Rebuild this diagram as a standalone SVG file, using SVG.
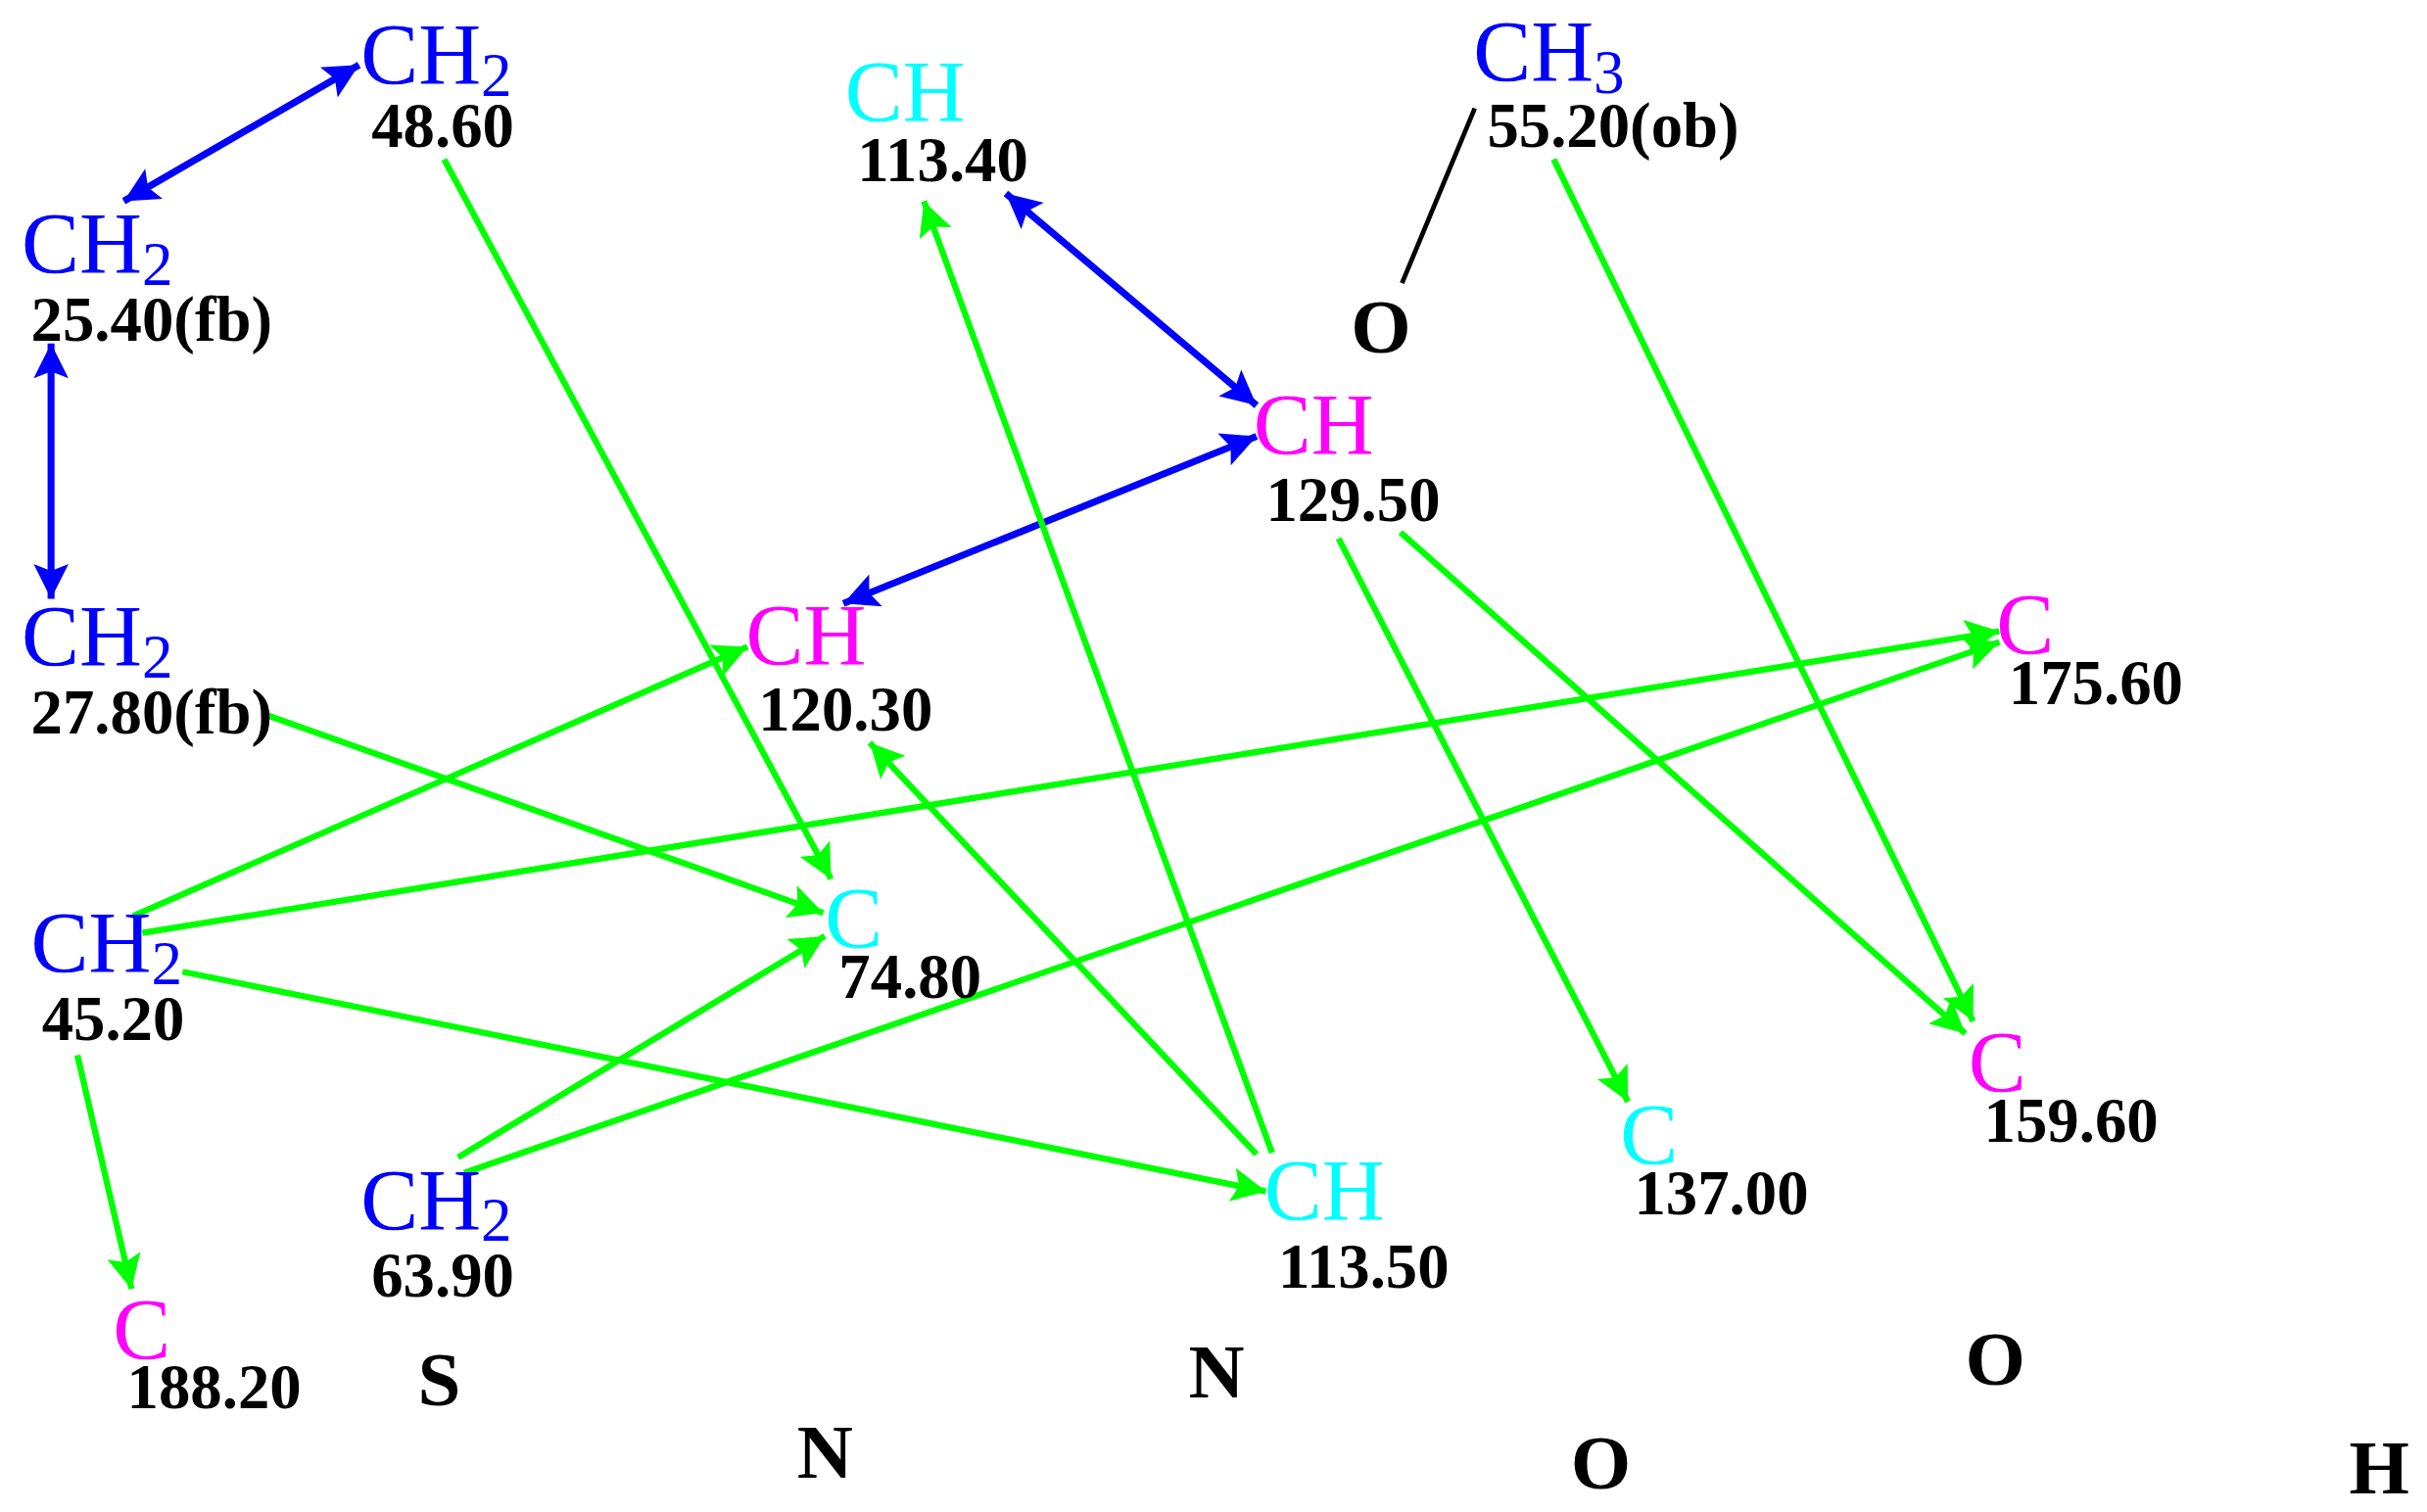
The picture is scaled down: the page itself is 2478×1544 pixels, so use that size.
<svg xmlns="http://www.w3.org/2000/svg" width="2478" height="1544" viewBox="0 0 2478 1544">
<style>
.l{font-family:"Liberation Serif",serif;font-size:56px}
.n{font-family:"Liberation Serif",serif;font-size:41px;font-weight:bold;fill:#000}
.a{font-family:"Liberation Serif",serif;font-size:50px;font-weight:bold;fill:#000}
.b{fill:#0000ff}.c{fill:#00ffff}.m{fill:#ff00ff}
.g{stroke:#00ff00;stroke-width:4;fill:none;marker-end:url(#ag)}
.bl{stroke:#0000ff;stroke-width:4.5;fill:none;marker-end:url(#ab);marker-start:url(#abs)}
</style>
<defs>
<marker id="ag" viewBox="0 0 10 10" refX="10" refY="5" markerWidth="7" markerHeight="5.5" orient="auto" markerUnits="strokeWidth"><path d="M0,0L10,5L0,10L2,5z" fill="#00ff00"/></marker>
<marker id="ab" viewBox="0 0 10 10" refX="10" refY="5" markerWidth="6.5" markerHeight="5" orient="auto" markerUnits="strokeWidth"><path d="M0,0L10,5L0,10L2,5z" fill="#0000ff"/></marker>
<marker id="abs" viewBox="0 0 10 10" refX="0" refY="5" markerWidth="6.5" markerHeight="5" orient="auto" markerUnits="strokeWidth"><path d="M10,0L0,5L10,10L8,5z" fill="#0000ff"/></marker>
</defs>
<rect width="2478" height="1544" fill="#fff"/>
<g transform="scale(1.58)">
<g id="connectors">
<line class="bl" x1="80" y1="130" x2="232" y2="42"/>
<line class="bl" x1="33" y1="222" x2="33" y2="387"/>
<line class="bl" x1="650" y1="125" x2="812" y2="262"/>
<line class="bl" x1="545" y1="390" x2="812" y2="282"/>
<line x1="953" y1="70" x2="906" y2="183" stroke="#000" stroke-width="3"/>
<line class="g" x1="287" y1="103" x2="537" y2="568"/>
<line class="g" x1="172" y1="462" x2="532" y2="590"/>
<line class="g" x1="86" y1="592" x2="483" y2="418"/>
<line class="g" x1="92" y1="603" x2="1292" y2="408"/>
<line class="g" x1="118" y1="628" x2="818" y2="770"/>
<line class="g" x1="50" y1="682" x2="85" y2="833"/>
<line class="g" x1="296" y1="748" x2="533" y2="605"/>
<line class="g" x1="300" y1="758" x2="1292" y2="415"/>
<line class="g" x1="812" y1="746" x2="562" y2="480"/>
<line class="g" x1="822" y1="745" x2="597" y2="130"/>
<line class="g" x1="865" y1="348" x2="1052" y2="712"/>
<line class="g" x1="905" y1="344" x2="1270" y2="668"/>
<line class="g" x1="1004" y1="103" x2="1275" y2="660"/>
</g>
<g id="n1"><text class="l b" x="233" y="54">CH<tspan font-size="40" dy="8">2</tspan></text><text class="n" x="240" y="95">48.60</text></g>
<g id="n2"><text class="l b" x="14" y="176">CH<tspan font-size="40" dy="8">2</tspan></text><text class="n" x="20" y="220">25.40(fb)</text></g>
<g id="n3"><text class="l b" x="14" y="430">CH<tspan font-size="40" dy="8">2</tspan></text><text class="n" x="20" y="474">27.80(fb)</text></g>
<g id="n4"><text class="l b" x="20" y="628">CH<tspan font-size="40" dy="8">2</tspan></text><text class="n" x="27" y="672">45.20</text></g>
<g id="n5"><text class="l b" x="233" y="794">CH<tspan font-size="40" dy="8">2</tspan></text><text class="n" x="240" y="838">63.90</text></g>
<g id="n6"><text class="l m" x="73" y="878">C</text><text class="n" x="82" y="910">188.20</text></g>
<g id="n7"><text class="l c" x="546" y="78">CH</text><text class="n" x="554" y="117">113.40</text></g>
<g id="n8"><text class="l b" x="952" y="52">CH<tspan font-size="40" dy="8">3</tspan></text><text class="n" x="961" y="95">55.20(ob)</text></g>
<g id="n9"><text class="a" x="873" y="228">O</text></g>
<g id="n10"><text class="l m" x="810" y="293">CH</text><text class="n" x="818" y="337">129.50</text></g>
<g id="n11"><text class="l m" x="482" y="429">CH</text><text class="n" x="490" y="472">120.30</text></g>
<g id="n12"><text class="l c" x="533" y="612">C</text><text class="n" x="542" y="645">74.80</text></g>
<g id="n13"><text class="l m" x="1290" y="422">C</text><text class="n" x="1298" y="455">175.60</text></g>
<g id="n14"><text class="l c" x="817" y="788">CH</text><text class="n" x="826" y="832">113.50</text></g>
<g id="n15"><text class="l c" x="1047" y="752">C</text><text class="n" x="1056" y="785">137.00</text></g>
<g id="n16"><text class="l m" x="1272" y="705">C</text><text class="n" x="1282" y="738">159.60</text></g>
<g id="atoms">
<text class="a" x="270" y="908">S</text>
<text class="a" x="515" y="955">N</text>
<text class="a" x="768" y="903">N</text>
<text class="a" x="1015" y="962">O</text>
<text class="a" x="1270" y="895">O</text>
<text class="a" x="1518" y="965">H</text>
</g>
</g>
</svg>
